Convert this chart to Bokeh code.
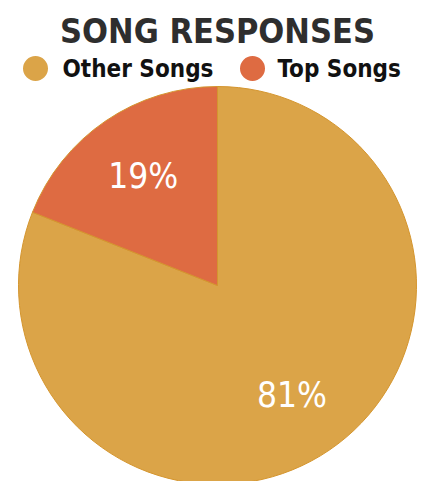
import math
from bokeh.plotting import figure
from bokeh.models import Range1d
from bokeh.core.properties import value
from bokeh.embed import file_html
from bokeh.resources import INLINE

categories = ["Other Songs", "Top Songs"]
shares = [81, 19]
labels = ["81%", "19%"]
colors = ["#DBA448", "#DE6B42"]
title_text = "SONG RESPONSES"

FONT = "DejaVu Sans Condensed"
W, H = 425, 481
p = figure(width=W, height=H, output_backend="svg", toolbar_location=None,
           x_range=Range1d(0, W), y_range=Range1d(0, H), min_border=0,
           outline_line_color=None, background_fill_color="white")
p.axis.visible = False
p.grid.visible = False

cx, cy, r = 217, 196, 199
total = sum(shares)
start = math.pi / 2
starts, ends, mids = [], [], []
for s in shares:
    a = s / total * 2 * math.pi
    starts.append(start)
    ends.append(start - a)
    mids.append(start - a / 2)
    start -= a

p.wedge(x=[cx] * len(shares), y=[cy] * len(shares), radius=r,
        start_angle=starts, end_angle=ends, direction="clock",
        fill_color=colors, line_color="#D4952E", line_width=1)

lr = 0.665 * r
p.text(x=[cx + lr * math.cos(m) for m in mids], y=[cy + lr * math.sin(m) for m in mids],
       text=labels, text_color="white", text_font=value(FONT),
       text_font_size="35px", text_align="center", text_baseline="middle")

# title
p.text(x=[217], y=[H - 30], text=[title_text], text_color="#2E2E2E",
       text_font=value(FONT), text_font_size="34px", text_font_style="bold",
       text_align="center", text_baseline="middle")

# legend
leg_y = H - 68
circ_x = [35, 252]
text_x = [62, 277]
p.scatter(x=circ_x, y=[leg_y] * 2, size=25, marker="circle", fill_color=colors,
          line_color=None)
p.text(x=text_x, y=[leg_y] * 2, text=categories, text_color="#111111",
       text_font=value(FONT), text_font_size="24px",
       text_font_style="bold", text_align="left", text_baseline="middle")

open("out.html", "w").write(file_html(p, INLINE))
